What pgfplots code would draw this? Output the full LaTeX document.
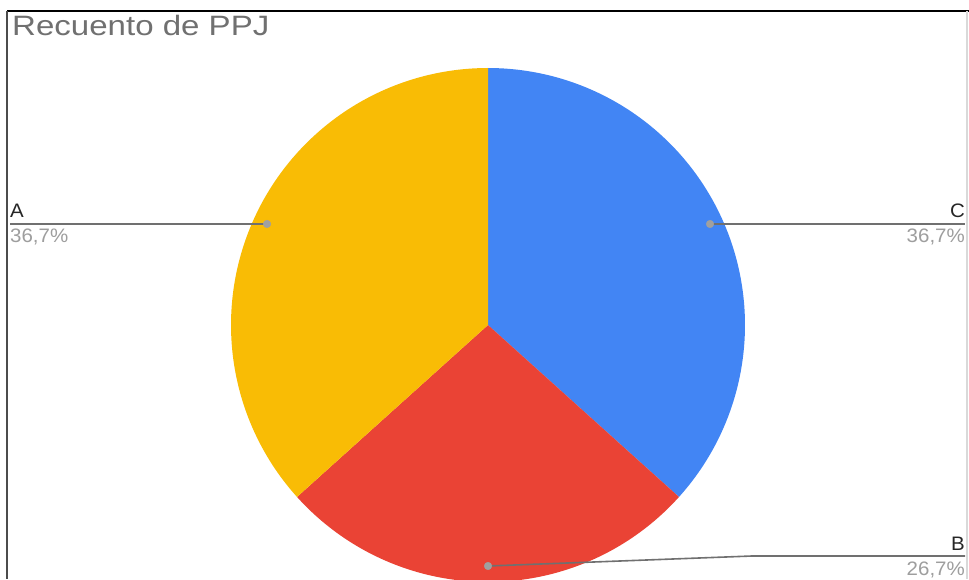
\documentclass[border=0pt]{standalone}
\usepackage{pgfplots}
\pgfplotsset{compat=1.18}
\usepackage{pgfplotstable}
\usepackage{fontspec}
\setmainfont{Liberation Sans}
\definecolor{pieblue}{HTML}{4285F4}
\definecolor{piered}{HTML}{EA4335}
\definecolor{pieyellow}{HTML}{F9BC05}
\definecolor{leader}{HTML}{707070}
\definecolor{dotgray}{HTML}{A0A0A0}
\definecolor{pctgray}{HTML}{9E9E9E}
\definecolor{titlegray}{HTML}{707070}
\pgfplotstableread{
label value
C 11
B 8
A 11
}\piedata
\pgfplotstablegetelem{0}{value}\of\piedata \let\vC\pgfplotsretval
\pgfplotstablegetelem{1}{value}\of\piedata \let\vB\pgfplotsretval
\pgfplotstablegetelem{2}{value}\of\piedata \let\vA\pgfplotsretval
\pgfmathsetmacro{\tot}{\vA+\vB+\vC}
\pgfmathsetmacro{\aC}{90-360*\vC/\tot}
\pgfmathsetmacro{\aB}{\aC-360*\vB/\tot}
\pgfmathsetmacro{\aA}{\aB-360*\vA/\tot}
\begin{document}
\begin{tikzpicture}
\useasboundingbox (0,0) rectangle (969pt,579pt);
\fill[white] (0,0) rectangle (969pt,579pt);
\begin{axis}[
  x=1pt, y=1pt, anchor=origin, at={(0,0)},
  xmin=0, xmax=969, ymin=0, ymax=579,
  hide axis, clip=false,
]
% border
\addplot[black, line width=1.8pt] coordinates {(7,568) (969,568)};
\addplot[black!70, line width=1.5pt] coordinates {(7,568) (7,0)};
\addplot[black!15, line width=1.2pt] coordinates {(967,568) (967,0)};
% pie wedges
\addplot[fill=pieblue, draw=none, domain=\aC:90, samples=150, variable=\t]
  ({488+257*cos(\t)},{254+257*sin(\t)}) -- (axis cs:488,254) -- cycle;
\addplot[fill=piered, draw=none, domain=\aB:\aC, samples=120, variable=\t]
  ({488+257*cos(\t)},{254+257*sin(\t)}) -- (axis cs:488,254) -- cycle;
\addplot[fill=pieyellow, draw=none, domain=\aA:\aB, samples=150, variable=\t]
  ({488+257*cos(\t)},{254+257*sin(\t)}) -- (axis cs:488,254) -- cycle;
% leader lines
\addplot[leader, line width=1.6pt] coordinates {(267,355) (10,355)};
\addplot[leader, line width=1.6pt] coordinates {(710,355) (965,355)};
\addplot[leader, line width=1.6pt] coordinates {(488,13) (752,23) (965,23)};
\addplot[only marks, mark=*, mark size=3.8pt, dotgray, mark options={draw=dotgray, fill=dotgray}]
  coordinates {(267,355) (710,355) (488,13)};
% labels
\node[anchor=base west, inner sep=0pt, xscale=1.18, text=titlegray, font=\fontsize{28}{28}\selectfont] at (axis cs:12,543.5) {Recuento de PPJ};
\node[anchor=base west, inner sep=0pt, xscale=1.05, text=black!85, font=\fontsize{19.5}{20}\selectfont] at (axis cs:10,361) {A};
\node[anchor=base west, inner sep=0pt, xscale=1.05, text=pctgray, font=\fontsize{19.5}{20}\selectfont] at (axis cs:10,336) {36,7\%};
\node[anchor=base east, inner sep=0pt, xscale=1.05, text=black!85, font=\fontsize{19.5}{20}\selectfont] at (axis cs:965,361) {C};
\node[anchor=base east, inner sep=0pt, xscale=1.05, text=pctgray, font=\fontsize{19.5}{20}\selectfont] at (axis cs:965,336) {36,7\%};
\node[anchor=base east, inner sep=0pt, xscale=1.05, text=black!85, font=\fontsize{19.5}{20}\selectfont] at (axis cs:965,29) {B};
\node[anchor=base east, inner sep=0pt, xscale=1.05, text=pctgray, font=\fontsize{19.5}{20}\selectfont] at (axis cs:965,4) {26,7\%};
\end{axis}
\end{tikzpicture}
\end{document}
